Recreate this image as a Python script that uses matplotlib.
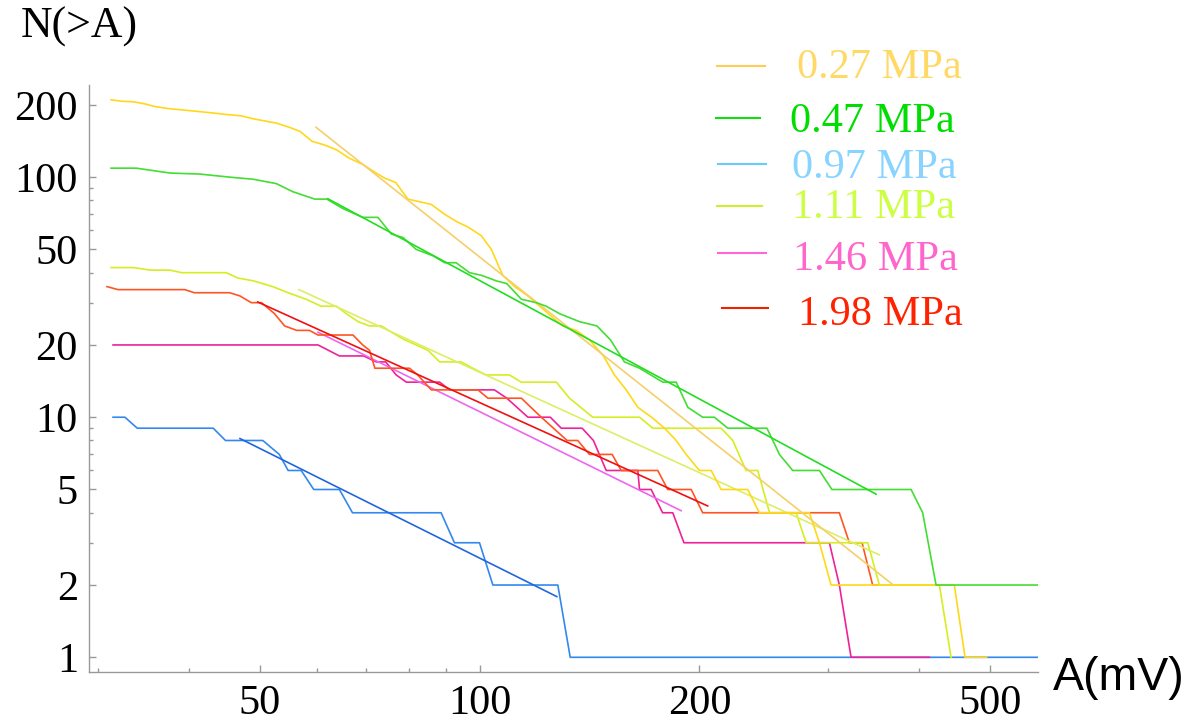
import matplotlib
matplotlib.use("Agg")
import matplotlib.pyplot as plt
from matplotlib.lines import Line2D
from matplotlib.ticker import FixedLocator, FuncFormatter, NullFormatter

# cumulative counts N(>A), amplitude in mV
amp_027 = [31.3, 32.4, 33.6, 34.8, 35.9, 37.5, 38.9, 41.0, 43.2, 45.3, 47.2, 49.0, 50.5, 52.7, 55.0,
           56.8, 59.0, 61.4, 63.7, 66.3, 69.2, 72.2, 74.2, 76.8, 79.8, 85.9, 89.6, 93.3, 96.4, 100.6,
           103.8, 107.6, 111.7, 116.5, 120.9, 126.0, 130.0, 135.6, 141.4, 147.8, 153.0, 158.8, 164.7,
           172.0, 179.2, 185.9, 191.8, 200.0, 207.6, 214.2, 232.9, 241.6, 282.9, 292.0, 302.9, 446.7,
           462.1, 494.6]
n_027 = [210, 207, 206, 202, 197, 193, 191, 188, 185, 182, 180, 175, 172, 168, 161, 155, 141, 136, 130,
         120, 113, 104, 99, 95, 81, 77, 70, 65, 62, 57, 50, 39, 35, 32, 29, 26, 24, 23, 21, 18, 15, 13,
         11, 10, 9, 8, 7, 6, 6, 5, 5, 4, 4, 3, 2, 2, 1, 1]

amp_047 = [31.3, 33.9, 37.7, 41.4, 45.5, 49.0, 52.7, 55.5, 59.5, 61.8, 65.0, 69.2, 72.6, 75.7, 78.6,
           81.9, 86.4, 89.6, 92.9, 96.9, 100.6, 105.4, 109.0, 114.1, 119.6, 123.4, 128.7, 137.1, 144.8,
           151.1, 157.9, 165.6, 178.2, 185.9, 192.8, 202.1, 209.7, 218.7, 247.5, 257.4, 268.4, 292.0,
           303.7, 389.8, 404.3, 421.7, 600]
n_047 = [109, 109, 104, 103, 100, 98, 94, 87, 81, 81, 74, 68, 68, 58, 56, 50, 47, 44, 44, 40, 39, 37,
         36, 31, 30, 29, 27, 25, 24, 21, 17, 16, 14, 14, 11, 10, 10, 9, 9, 7, 6, 6, 5, 5, 4, 2, 2]

amp_097 = [31.5, 32.7, 34.0, 43.2, 44.9, 50.5, 53.2, 54.7, 57.0, 59.3, 64.3, 67.0, 88.6, 92.4, 100.0,
           104.3, 128.0, 133.1, 600]
n_097 = [10, 10, 9, 9, 8, 8, 7, 6, 6, 5, 5, 4, 4, 3, 3, 2, 2, 1, 1]

amp_111 = [31.3, 33.6, 35.4, 37.7, 39.1, 45.0, 46.7, 49.0, 52.1, 54.7, 57.9, 60.7, 63.7, 65.7, 68.2,
           70.7, 73.4, 76.9, 79.0, 81.9, 85.0, 88.2, 94.4, 97.9, 102.1, 109.9, 114.1, 127.4, 132.8,
           142.9, 165.6, 172.7, 214.2, 222.2, 231.7, 240.4, 249.5, 271.3, 280.0, 340.0, 352.7, 426.2,
           442.1]
n_111 = [42, 42, 41, 41, 40, 40, 38, 37, 35, 33, 31, 29, 29, 27, 25, 24, 24, 22, 21, 20, 19, 17, 17,
         16, 15, 15, 14, 14, 12, 10, 10, 9, 9, 8, 6, 6, 4, 4, 3, 3, 2, 2, 1]

amp_146 = [31.5, 60.1, 64.3, 69.4, 72.2, 74.4, 76.9, 79.4, 88.2, 91.0, 104.8, 109.0, 116.5, 125.0,
           129.4, 138.2, 143.2, 149.1, 164.7, 165.6, 171.8, 178.1, 183.9, 190.5, 301.3, 310.9, 322.6,
           412.9]
n_146 = [20, 20, 18, 18, 17, 17, 15, 14, 14, 13, 13, 12, 10, 10, 9, 9, 8, 6, 6, 5, 5, 4, 4, 3, 3, 2,
         1, 1]

amp_198 = [30.9, 32.0, 39.5, 40.7, 45.5, 47.0, 48.7, 50.3, 52.4, 54.1, 56.2, 58.5, 60.1, 67.1, 69.2,
           70.7, 71.9, 80.2, 82.3, 85.9, 99.5, 102.7, 114.1, 121.5, 131.8, 136.3, 141.4, 151.9, 156.3,
           175.4, 181.0, 194.9, 202.1, 310.9, 320.9, 334.0, 345.3, 350.5]
n_198 = [35, 34, 34, 33, 33, 32, 30, 30, 27, 24, 23, 23, 22, 22, 20, 19, 16, 16, 15, 13, 13, 12, 12,
         10, 8, 8, 7, 7, 6, 6, 5, 5, 4, 4, 3, 3, 2, 2]

# power-law fits, given by their end points
fit_amp_027, fit_n_027 = [59.7, 367.8], [161.5, 2.01]
fit_amp_047, fit_n_047 = [62.0, 349.1], [81.3, 4.78]
fit_amp_097, fit_n_097 = [47.0, 127.6], [8.15, 1.79]
fit_amp_111, fit_n_111 = [56.6, 352.7], [34.0, 2.67]
fit_amp_146, fit_n_146 = [60.1, 188.8], [22.6, 4.08]
fit_amp_198, fit_n_198 = [49.7, 205.3], [30.2, 4.27]

legend_labels = ["0.27 MPa", "0.47 MPa", "0.97 MPa", "1.11 MPa", "1.46 MPa", "1.98 MPa"]
legend_line_colors = ["#FFCC55", "#11DD11", "#66CCFF", "#CCEE33", "#FF66DD", "#EE2200"]
legend_text_colors = ["#FFD966", "#00DD00", "#88D4FF", "#CCFF44", "#FF66CC", "#FF2200"]

W, H = 1195, 722
fig = plt.figure(figsize=(W / 100, H / 100), dpi=100)
ax = fig.add_axes([89 / W, 1 - 671.7 / H, (1037.7 - 89) / W, (671.7 - 85) / H])
ax.set_xscale("log")
ax.set_yscale("log")
ax.set_xlim(29.2, 581)
ax.set_ylim(0.871, 242)

lw = 1.2
# data curves then fits (order matters for the overlaps)
ax.plot(amp_097, n_097, color="#3388EE", lw=lw)
ax.plot(fit_amp_097, fit_n_097, color="#2266DD", lw=lw)
ax.plot(amp_146, n_146, color="#EE2299", lw=lw)
ax.plot(fit_amp_146, fit_n_146, color="#EE66EE", lw=lw)
ax.plot(amp_198, n_198, color="#FF5522", lw=lw)
ax.plot(fit_amp_198, fit_n_198, color="#EE1111", lw=lw)
ax.plot(amp_111, n_111, color="#D4EE22", lw=lw)
ax.plot(fit_amp_111, fit_n_111, color="#DDEE66", lw=lw)
ax.plot(amp_027, n_027, color="#FFD81A", lw=lw)
ax.plot(fit_amp_027, fit_n_027, color="#F5CF6A", lw=lw)
ax.plot(amp_047, n_047, color="#44DD33", lw=lw)
ax.plot(fit_amp_047, fit_n_047, color="#22DD22", lw=lw)

for side in ["top", "right"]:
    ax.spines[side].set_visible(False)
for side in ["left", "bottom"]:
    ax.spines[side].set_color("#999999")
    ax.spines[side].set_linewidth(1.0)

fmt = FuncFormatter(lambda v, p: "%g" % v)
ax.xaxis.set_major_locator(FixedLocator([50, 100, 200, 500]))
ax.xaxis.set_minor_locator(FixedLocator([30, 40, 60, 70, 80, 90, 300, 400]))
ax.yaxis.set_major_locator(FixedLocator([1, 2, 5, 10, 20, 50, 100, 200]))
ax.yaxis.set_minor_locator(FixedLocator([3, 4, 6, 7, 8, 9, 30, 40, 60, 70, 80, 90]))
ax.xaxis.set_major_formatter(fmt)
ax.yaxis.set_major_formatter(fmt)
ax.xaxis.set_minor_formatter(NullFormatter())
ax.yaxis.set_minor_formatter(NullFormatter())
ax.tick_params(which="both", direction="in", color="#999999", width=1.0,
               labelsize=30.5, labelfontfamily="Liberation Serif")
ax.tick_params(which="major", length=5)
ax.tick_params(which="minor", length=3)
ax.tick_params(axis="y", pad=8)
ax.tick_params(axis="x", pad=9)

fig.text(21 / W, 1 - 38 / H, "N(>A)", family="Liberation Serif", fontsize=31.5,
         ha="left", va="baseline")
fig.text(1053 / W, 1 - 690 / H, "A(mV)", family="Liberation Sans", fontsize=33.5,
         ha="left", va="baseline")

# legend, drawn by hand as in the original
leg_line_x = [(717, 765), (716, 760), (718, 766), (717, 762), (718, 766), (722, 768)]
leg_line_y = [66, 118, 164, 206, 253, 308]
leg_text_x = [797, 790, 792, 792, 793, 798]
leg_text_base = [78, 131.7, 178.3, 218.3, 270, 325]
for i, lab in enumerate(legend_labels):
    x0, x1 = leg_line_x[i]
    fig.add_artist(Line2D([x0 / W, x1 / W], [1 - leg_line_y[i] / H] * 2,
                          transform=fig.transFigure, color=legend_line_colors[i], lw=1.5))
    fig.text(leg_text_x[i] / W, 1 - leg_text_base[i] / H, lab, color=legend_text_colors[i],
             family="Liberation Serif", fontsize=30.5, ha="left", va="baseline")

fig.savefig("out.png", dpi=100)
